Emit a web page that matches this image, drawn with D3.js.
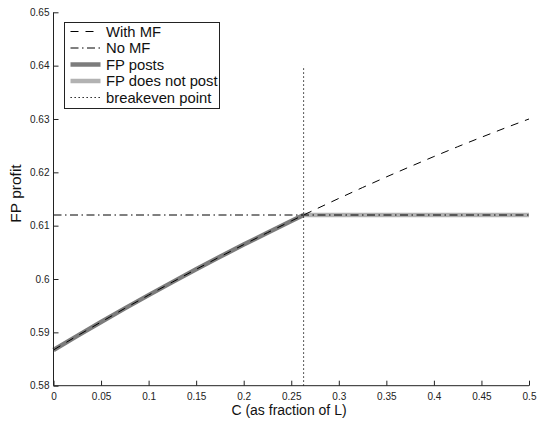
<!DOCTYPE html>
<html>
<head>
<meta charset="utf-8">
<script src="https://cdn.jsdelivr.net/npm/d3@7"></script>
<style>
    body { margin: 0; background: #fff; }
    svg { display: block; font-family: "Liberation Sans", Arial, sans-serif; }
</style>
</head>
<body>
<svg id="chart" width="537" height="423"></svg>
<script>
'use strict';

// C values (as fraction of L)
const cValues = [0, 0.025, 0.05, 0.075, 0.1, 0.125, 0.15, 0.175, 0.2, 0.225, 0.25, 0.263,
                 0.275, 0.3, 0.325, 0.35, 0.375, 0.4, 0.425, 0.45, 0.475, 0.5];
// FP profit with MF
const withMF = [0.5867, 0.58935, 0.59194, 0.59449, 0.59698, 0.59942, 0.60182, 0.60416, 0.60645, 0.60869, 0.61088, 0.61200,
                0.61302, 0.61511, 0.61715, 0.61914, 0.62107, 0.62296, 0.62480, 0.62658, 0.62832, 0.63000];
// FP profit with no MF (flat)
const noMF = 0.612;
const breakeven = 0.263;
const breakevenRange = [0.58, 0.64];

const xTicks = [0, 0.05, 0.1, 0.15, 0.2, 0.25, 0.3, 0.35, 0.4, 0.45, 0.5];
const yTicks = [0.58, 0.59, 0.6, 0.61, 0.62, 0.63, 0.64, 0.65];

const legendNames = ['With MF', 'No MF', 'FP posts', 'FP does not post', 'breakeven point'];

const svg = d3.select('#chart');
const mLeft = 53.5, mRight = 529, mTop = 12.3, mBottom = 385.7;

const x = d3.scaleLinear().domain([0, 0.5]).range([mLeft, mRight]);
const y = d3.scaleLinear().domain([0.58, 0.65]).range([mBottom, mTop]);

const line = d3.line().x((d) => x(d[0])).y((d) => y(d[1]));

const withPts = cValues.map((c, i) => [c, withMF[i]]);
const postsPts = withPts.filter((d) => d[0] <= breakeven);
const noPostPts = [[breakeven, noMF], [0.5, noMF]];
const noMFPts = [[0, noMF], [0.5, noMF]];

// styles for each series
const styles = {
    'With MF':          { stroke: '#000', width: 1, dash: '8,7' },
    'No MF':            { stroke: '#000', width: 1, dash: '8,3.5,1.5,3.5' },
    'FP posts':         { stroke: '#7c7c7c', width: 4.5, dash: null },
    'FP does not post': { stroke: '#b2b2b2', width: 4.5, dash: null },
    'breakeven point':  { stroke: '#000', width: 1, dash: '1.3,2.7' }
};

function drawPath(pts, name)
{
    const s = styles[name];
    svg.append('path')
        .attr('d', line(pts))
        .attr('fill', 'none')
        .attr('stroke', s.stroke)
        .attr('stroke-width', s.width)
        .attr('stroke-dasharray', s.dash);
}

drawPath(postsPts, 'FP posts');
drawPath(noPostPts, 'FP does not post');
drawPath(withPts, 'With MF');
drawPath(noMFPts, 'No MF');
drawPath([[breakeven, breakevenRange[0]], [breakeven, breakevenRange[1]]], 'breakeven point');

// axes, ticks inward
const xAxis = d3.axisBottom(x).tickValues(xTicks).tickSize(-5).tickPadding(7).tickFormat(d3.format('~g'));
const yAxis = d3.axisLeft(y).tickValues(yTicks).tickSize(-5).tickPadding(4).tickFormat(d3.format('~g'));

const gx = svg.append('g').attr('transform', 'translate(0,' + mBottom + ')').call(xAxis);
const gy = svg.append('g').attr('transform', 'translate(' + mLeft + ',0)').call(yAxis);

gx.select('.domain').attr('d', 'M' + mLeft + ',0H' + mRight);
gy.select('.domain').attr('d', 'M0,' + mTop + 'V' + mBottom);
[gx, gy].forEach((g) => {
    g.selectAll('path, line').attr('stroke', '#222').attr('stroke-width', 1);
    g.selectAll('text').attr('font-size', 10).attr('fill', '#222').attr('font-family', null);
});

// axis labels
svg.append('text')
    .attr('x', 289)
    .attr('y', 415)
    .attr('text-anchor', 'middle')
    .attr('font-size', 14)
    .attr('fill', '#111')
    .text('C (as fraction of L)');

svg.append('text')
    .attr('transform', 'translate(21,193.5) rotate(-90)')
    .attr('text-anchor', 'middle')
    .attr('font-size', 15.5)
    .attr('fill', '#111')
    .text('FP profit');

// legend
const lg = svg.append('g').attr('transform', 'translate(64.5,22.5)');
lg.append('rect')
    .attr('width', 155)
    .attr('height', 86)
    .attr('fill', '#fff')
    .attr('stroke', '#222')
    .attr('stroke-width', 1);

legendNames.forEach((name, i) => {
    const s = styles[name];
    const yy = 9 + i * 16.5;
    lg.append('line')
        .attr('x1', 6).attr('x2', 36)
        .attr('y1', yy).attr('y2', yy)
        .attr('stroke', s.stroke)
        .attr('stroke-width', s.width)
        .attr('stroke-dasharray', s.dash);
    lg.append('text')
        .attr('x', 41.5)
        .attr('y', yy + 5.3)
        .attr('font-size', 14.8)
        .attr('fill', '#111')
        .text(name);
});
</script>
</body>
</html>
